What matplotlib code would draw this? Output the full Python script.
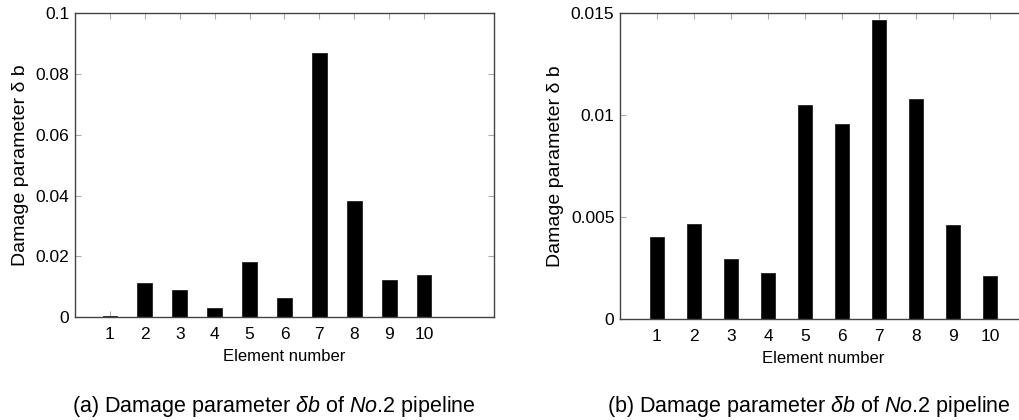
import matplotlib.pyplot as plt

plt.rcParams['font.family'] = ['Liberation Sans', 'DejaVu Sans']
plt.rcParams['mathtext.fontset'] = 'custom'
plt.rcParams['mathtext.rm'] = 'Liberation Sans'
plt.rcParams['mathtext.it'] = 'Liberation Sans:italic'

elements = [1, 2, 3, 4, 5, 6, 7, 8, 9, 10]
damage_a = [0.0004, 0.0113, 0.0089, 0.0029, 0.0182, 0.0064, 0.0868, 0.0382, 0.0123, 0.0138]
damage_b = [0.00404, 0.00467, 0.00297, 0.00225, 0.01052, 0.00959, 0.01466, 0.0108, 0.00461, 0.00212]
yticks_a = [0, 0.02, 0.04, 0.06, 0.08, 0.1]
ylabels_a = ['0', '0.02', '0.04', '0.06', '0.08', '0.1']
yticks_b = [0, 0.005, 0.01, 0.015]
ylabels_b = ['0', '0.005', '0.01', '0.015']

fig = plt.figure(figsize=(10.2, 4.2), dpi=100)
ax1 = fig.add_axes([0.0735, 0.2452, 0.4108, 0.7231])
ax2 = fig.add_axes([0.6078, 0.2398, 0.399, 0.7286])


def style(ax, data, width, xmax, yticks, ylabels):
    ax.bar(elements, data, width=width, color='black', edgecolor='#222222', linewidth=0.6, zorder=3)
    ax.set_xlim(0, xmax)
    ax.set_ylim(0, yticks[-1])
    ax.set_xticks(elements)
    ax.set_yticks(yticks)
    ax.set_yticklabels(ylabels)
    ax.tick_params(direction='in', top=True, right=True, bottom=True, left=True,
                   length=4, width=0.8, color='#aaaaaa', labelsize=12.5)
    ax.tick_params(axis='x', pad=7)
    ax.tick_params(axis='y', pad=4)
    for s in ax.spines.values():
        s.set_color('#444444')
        s.set_linewidth(1.0)
        s.set_zorder(4)
    ax.set_xlabel('Element number', fontsize=12, labelpad=5)
    ax.set_ylabel('Damage parameter δ b', fontsize=14, labelpad=5)


style(ax1, damage_a, 0.42, 12, yticks_a, ylabels_a)
style(ax2, damage_b, 0.4, 11, yticks_b, ylabels_b)

fig.text(0.268, 0.031, r'(a) Damage parameter $\delta b$ of $No$.2 pipeline',
         ha='center', va='center', fontsize=15.5)
fig.text(0.793, 0.031, r'(b) Damage parameter $\delta b$ of $No$.2 pipeline',
         ha='center', va='center', fontsize=15.5)

fig.savefig('out.png', dpi=100)
